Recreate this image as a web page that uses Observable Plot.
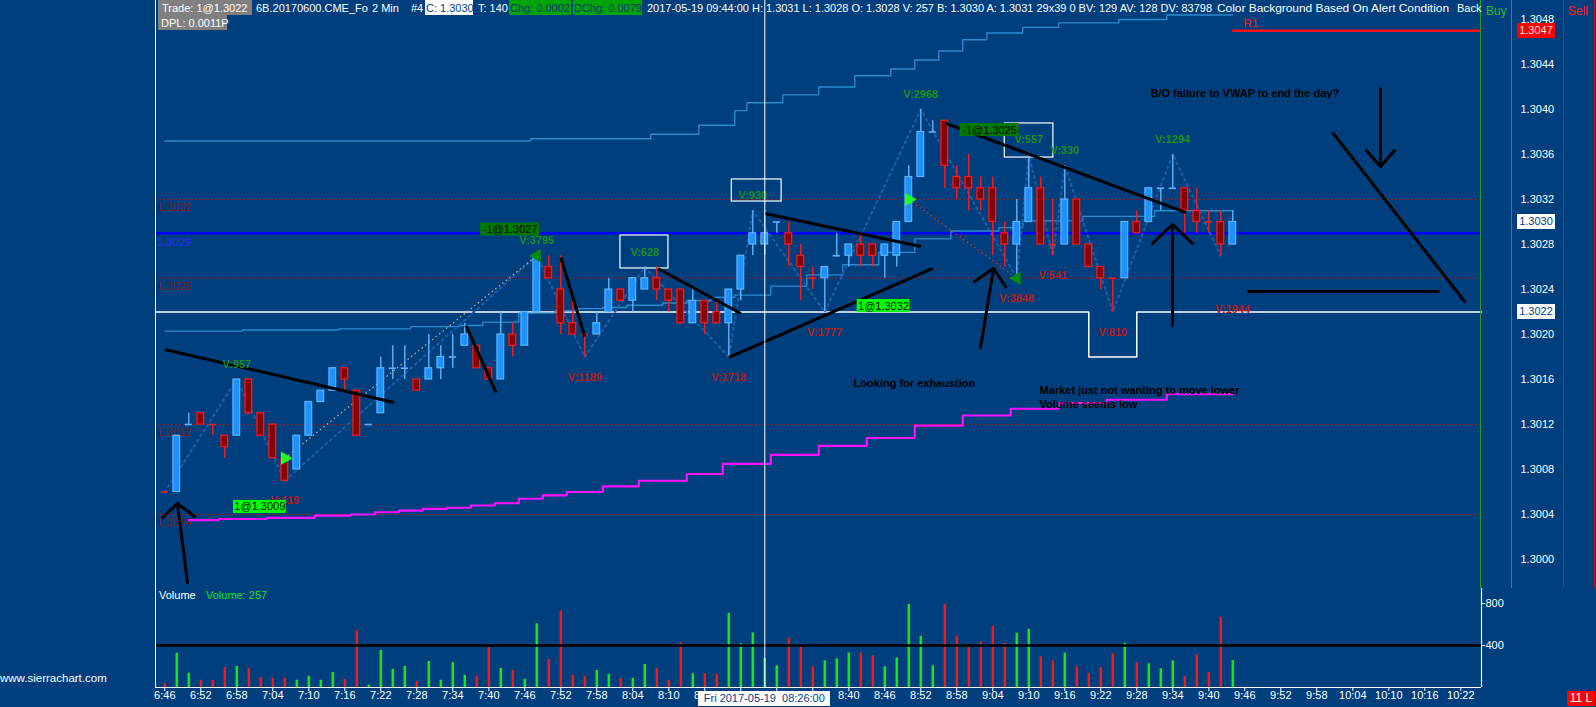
<!DOCTYPE html>
<html>
<head>
<meta charset="utf-8">
<script src="https://cdn.jsdelivr.net/npm/d3@7"></script>
<script src="https://cdn.jsdelivr.net/npm/@observablehq/plot@0.6"></script>
<style>
  html, body { margin:0; padding:0; background:#003f7e; }
  #wrap { position:relative; width:1596px; height:707px; background:#003f7e; overflow:hidden;
          font-family:"Liberation Sans", Arial, sans-serif; color:#fff; }
  #wrap > svg { position:absolute; left:0; }
  .abs { position:absolute; white-space:pre; font-size:11px; line-height:15px; }
</style>
</head>
<body>
<div id="wrap"></div>
<script>
// ---------------- DATA (6B 2-min bars, 06:46 .. 09:44, bar index 0..89) ----------------
const open = [
 1.3006,1.3006,1.3012,1.3013,1.3012,1.3011,1.3011,1.3016,1.3013,1.3012,
 1.3009,1.3008,1.3011,1.3014,1.3015,1.3017,1.3015,1.3012,1.3013,1.3017,
 1.3017,1.3016,1.3016,1.3017,1.3018,1.3019,1.3019,1.3017,1.3016,1.3020,
 1.3019,1.3022,1.3026,1.3024,1.3021,1.3020,1.3020,1.3022,1.3024,1.3023,
 1.3024,1.3025,1.3024,1.3024,1.3021,1.3023,1.3022,1.3021,1.3024,1.3028,
 1.3028,1.3030,1.3029,1.3027,1.3025,1.3025,1.3027,1.3027,1.3028,1.3028,
 1.3027,1.3027,1.3030,1.3034,1.3038,1.3039,1.3034,1.3034,1.3033,1.3033,
 1.3029,1.3028,1.3030,1.3033,1.3028,1.3028,1.3032,1.3028,1.3026,1.3025,
 1.3025,1.3030,1.3030,1.3033,1.3033,1.3033,1.3031,1.3030,1.3030,1.3028];
const high = [
 1.3006,1.3011,1.3013,1.3013,1.3012,1.3011,1.3016,1.3016,1.3013,1.3012,
 1.3009,1.3011,1.3014,1.3015,1.3017,1.3017,1.3015,1.3012,1.3018,1.3019,
 1.3019,1.3016,1.3020,1.3019,1.3020,1.3021,1.3019,1.3017,1.3022,1.3021,
 1.3022,1.3027,1.3027,1.3027,1.3023,1.3020,1.3022,1.3025,1.3024,1.3025,
 1.3026,1.3026,1.3024,1.3024,1.3024,1.3023,1.3023,1.3024,1.3027,1.3031,
 1.3031,1.3030,1.3030,1.3028,1.3026,1.3026,1.3029,1.3028,1.3029,1.3028,
 1.3028,1.3030,1.3035,1.3040,1.3039,1.3039,1.3035,1.3036,1.3034,1.3034,
 1.3030,1.3032,1.3036,1.3034,1.3032,1.3035,1.3032,1.3028,1.3026,1.3025,
 1.3030,1.3031,1.3033,1.3033,1.3036,1.3033,1.3033,1.3031,1.3031,1.3031];
const low = [
 1.3006,1.3006,1.3012,1.3012,1.3011,1.3009,1.3011,1.3013,1.3011,1.3009,
 1.3007,1.3008,1.3011,1.3014,1.3015,1.3015,1.3011,1.3012,1.3013,1.3016,
 1.3016,1.3015,1.3016,1.3016,1.3017,1.3019,1.3017,1.3016,1.3016,1.3018,
 1.3019,1.3022,1.3025,1.3020,1.3020,1.3018,1.3020,1.3022,1.3023,1.3022,
 1.3024,1.3023,1.3022,1.3021,1.3021,1.3020,1.3021,1.3018,1.3023,1.3027,
 1.3027,1.3029,1.3026,1.3023,1.3024,1.3022,1.3027,1.3026,1.3026,1.3026,
 1.3025,1.3026,1.3030,1.3034,1.3038,1.3033,1.3032,1.3031,1.3031,1.3027,
 1.3026,1.3025,1.3030,1.3028,1.3027,1.3028,1.3028,1.3026,1.3024,1.3022,
 1.3025,1.3029,1.3030,1.3031,1.3033,1.3029,1.3029,1.3029,1.3027,1.3028];
const close = [
 1.3006,1.3011,1.3012,1.3012,1.3012,1.3010,1.3016,1.3013,1.3011,1.3009,
 1.3007,1.3011,1.3014,1.3015,1.3017,1.3016,1.3011,1.3012,1.3017,1.3017,
 1.3017,1.3015,1.3017,1.3018,1.3018,1.3020,1.3017,1.3016,1.3020,1.3019,
 1.3022,1.3027,1.3025,1.3021,1.3020,1.3020,1.3021,1.3024,1.3023,1.3025,
 1.3025,1.3024,1.3023,1.3021,1.3023,1.3021,1.3021,1.3024,1.3027,1.3029,
 1.3029,1.3030,1.3028,1.3026,1.3025,1.3026,1.3027,1.3028,1.3027,1.3027,
 1.3028,1.3030,1.3034,1.3038,1.3038,1.3035,1.3033,1.3033,1.3032,1.3030,
 1.3028,1.3030,1.3033,1.3028,1.3028,1.3032,1.3028,1.3026,1.3025,1.3025,
 1.3030,1.3029,1.3033,1.3033,1.3033,1.3031,1.3030,1.3030,1.3028,1.3030];
// bar direction (G = up / green volume, R = down / red volume)
const barSide = ["RGGRRRGRRR","RGGGGRRGGG","GRGGGGRRGR","GGRRRRGGRG","GRRRGRRGGG",
                 "GGRRRGGGRR","GGGGGRRRRR","RGGRRGRRRR","GRGGGRRRRG"].join("");
const volume = [
 38,326,135,69,69,191,201,182,94,88,
 88,69,107,69,144,78,540,22,352,173,
 201,57,248,69,238,116,107,380,182,163,
 78,606,267,728,116,107,163,126,88,88,
 220,182,69,425,132,132,124,708,416,520,
 276,207,471,389,198,254,273,329,329,301,
 198,282,790,489,207,790,489,386,433,583,
 423,518,555,292,254,329,198,132,188,320,
 423,235,226,179,254,104,311,141,668,257];
// VWAP and bands
const upperBand = [
 1.30372,1.30372,1.30372,1.30372,1.30372,1.30372,1.30372,1.30372,1.30372,1.30372,
 1.30372,1.30372,1.30372,1.30372,1.30372,1.30372,1.30372,1.30372,1.30372,1.30372,
 1.30372,1.30372,1.30372,1.30372,1.30372,1.30372,1.30372,1.30372,1.30372,1.30372,
 1.30372,1.30374,1.30374,1.30374,1.30374,1.30374,1.30374,1.30374,1.30374,1.30374,
 1.30374,1.30378,1.30378,1.30378,1.30378,1.30386,1.30386,1.30386,1.30399,1.30406,
 1.30406,1.30406,1.30413,1.30413,1.30413,1.30420,1.30420,1.30420,1.30430,1.30430,
 1.30430,1.30436,1.30436,1.30444,1.30444,1.30452,1.30452,1.30462,1.30462,1.30468,
 1.30468,1.30468,1.30473,1.30473,1.30473,1.30477,1.30477,1.30477,1.30477,1.30477,
 1.30480,1.30480,1.30480,1.30480,1.30484,1.30484,1.30484,1.30484,1.30484,1.30484];
const vwap = [
 1.30203,1.30203,1.30203,1.30203,1.30203,1.30203,1.30203,1.30204,1.30204,1.30204,
 1.30204,1.30204,1.30204,1.30204,1.30204,1.30205,1.30205,1.30205,1.30205,1.30205,
 1.30205,1.30207,1.30207,1.30207,1.30207,1.30208,1.30208,1.30211,1.30211,1.30211,
 1.30219,1.30219,1.30219,1.30221,1.30221,1.30223,1.30223,1.30224,1.30224,1.30226,
 1.30226,1.30226,1.30228,1.30228,1.30230,1.30230,1.30233,1.30233,1.30235,1.30235,
 1.30235,1.30243,1.30243,1.30243,1.30253,1.30253,1.30253,1.30262,1.30262,1.30262,
 1.30273,1.30273,1.30273,1.30285,1.30285,1.30285,1.30292,1.30292,1.30292,1.30292,
 1.30295,1.30295,1.30301,1.30301,1.30301,1.30301,1.30301,1.30305,1.30305,1.30305,
 1.30305,1.30305,1.30305,1.30310,1.30310,1.30310,1.30310,1.30310,1.30310,1.30310];
const lowerBand = [
 null,null,1.30035,1.30035,1.30035,1.30036,1.30036,1.30036,1.30036,1.30037,
 1.30037,1.30037,1.30037,1.30039,1.30039,1.30039,1.30040,1.30040,1.30042,1.30042,
 1.300435,1.300435,1.30045,1.30045,1.30046,1.30046,1.30048,1.30048,1.30050,1.30050,
 1.30054,1.30054,1.30057,1.30057,1.30060,1.30060,1.30060,1.30065,1.30065,1.30065,
 1.30070,1.30070,1.30070,1.30070,1.30076,1.30076,1.30076,1.30085,1.30085,1.30085,
 1.30085,1.30093,1.30093,1.30093,1.30093,1.30101,1.30101,1.30101,1.30101,1.30108,
 1.30108,1.30108,1.30108,1.30119,1.30119,1.30119,1.30119,1.30128,1.30128,1.30128,
 1.30128,1.30134,1.30134,1.30134,1.30134,1.30139,1.30139,1.30139,1.30139,1.30142,
 1.30142,1.30142,1.30142,1.30142,1.30147,1.30147,1.30147,1.30147,1.30147,1.30147];
// white step level
const whiteLevel = [
 1.3022,1.3022,1.3022,1.3022,1.3022,1.3022,1.3022,1.3022,1.3022,1.3022,
 1.3022,1.3022,1.3022,1.3022,1.3022,1.3022,1.3022,1.3022,1.3022,1.3022,
 1.3022,1.3022,1.3022,1.3022,1.3022,1.3022,1.3022,1.3022,1.3022,1.3022,
 1.3022,1.3022,1.3022,1.3022,1.3022,1.3022,1.3022,1.3022,1.3022,1.3022,
 1.3022,1.3022,1.3022,1.3022,1.3022,1.3022,1.3022,1.3022,1.3022,1.3022,
 1.3022,1.3022,1.3022,1.3022,1.3022,1.3022,1.3022,1.3022,1.3022,1.3022,
 1.3022,1.3022,1.3022,1.3022,1.3022,1.3022,1.3022,1.3022,1.3022,1.3022,
 1.3022,1.3022,1.3022,1.3022,1.3022,1.3022,1.3022,1.3018,1.3018,1.3018,
 1.3018,1.3022,1.3022,1.3022,1.3022,1.3022,1.3022,1.3022,1.3022,1.3022];
const refLevels = [1.3032, 1.3025, 1.3012, 1.3004];
const blueLevel = 1.3029;
const r1Level = 1.3047;
const lastPrice = 1.3030;
const tradePriceLevel = 1.3022;
const priceTicks = [1.3000,1.3004,1.3008,1.3012,1.3016,1.3020,1.3024,1.3028,1.3032,1.3036,1.3040,1.3044,1.3048];
const volTicks = [400, 800];
const volAlert = 400;
const tickLabels = ["6:46","6:52","6:58","7:04","7:10","7:16","7:22","7:28","7:34","7:40","7:46","7:52",
  "7:58","8:04","8:10","8:16","8:22","8:28","8:34","8:40","8:46","8:52","8:58","9:04","9:10","9:16",
  "9:22","9:28","9:34","9:40","9:46","9:52","9:58","10:04","10:10","10:16","10:22"];
// swing highs / lows with swing volume
const swingBars    = [6,10,31,35,40,47,49,55,63,71,72,74,75,79,84,89];
const swingPrices  = [1.3016,1.3007,1.3027,1.3018,1.3026,1.3018,1.3031,1.3022,1.3040,1.3025,1.3036,1.3027,1.3035,1.3022,1.3036,1.3024];
const swingVolumes = [957,419,3795,1189,628,1718,930,1777,2968,3848,557,541,330,810,1294,1944];
const swingKind    = ["H","L","H","L","H","L","H","L","H","L","H","L","H","L","H","L"];
const zigzagBars   = [0,6,10,31,35,40,47,49,55,63,71,72,74,75,79,84,88];
const zigzagPrices = [1.3006,1.3016,1.3007,1.3027,1.3018,1.3026,1.3018,1.3031,1.3022,1.3040,1.3025,1.3036,1.3027,1.3035,1.3022,1.3036,1.3027];
// trades
const tradeBars   = [10, 31, 62, 71];
const tradePrices = [1.3009, 1.3027, 1.3032, 1.3025];
const tradeQty    = [1, -1, 1, -1];
const tradeLabelBars   = [7.92, 28.77, 59.89, 68.73];
const tradeLabelPrices = [1.300467, 1.302933, 1.302253, 1.303818];
// drawn annotations (bar index, price)
const trendLines = [
 [0, 1.301867, 19.1, 1.301396], [25.1, 1.302080, 27.6, 1.301484], [33.0, 1.302684, 35.0, 1.301982],
 [41.1, 1.302587, 48.0, 1.302187], [47.0, 1.301796, 64.0, 1.302587], [50.0, 1.303076, 63.0, 1.302782],
 [65.1, 1.303876, 85.1, 1.303084], [97.31, 1.303796, 108.39, 1.302284], [90.22, 1.302382, 106.22, 1.302382]];
const arrows = [
 [[-0.19,1.300373],[1.06,1.300498],[2.48,1.300382]], [[1.06,1.300498],[1.89,1.299796]],
 [[67.48,1.302471],[69.06,1.302587],[70.06,1.302427]], [[69.06,1.302587],[67.98,1.301884]],
 [[82.31,1.302809],[83.98,1.302978],[85.64,1.302809]], [[83.98,1.302978],[83.98,1.302080]],
 [[101.31,1.304187],[101.31,1.303493]], [[100.14,1.303636],[101.31,1.303493],[102.48,1.303636]]];
const notes = [
 {i: 57.4, p: 1.301564, t: "Looking for exhaustion"},
 {i: 72.9, p: 1.301502, t: "Market just not wanting to move lower"},
 {i: 72.9, p: 1.301378, t: "Volume seems low"},
 {i: 82.14, p: 1.304142, t: "B/O failure to VWAP to end the day?"}];
const boxes = [
 {x1: 37.97, x2: 41.97, y1: 1.302880, y2: 1.302587},
 {x1: 47.25, x2: 51.40, y1: 1.303378, y2: 1.303182},
 {x1: 70.00, x2: 74.05, y1: 1.303876, y2: 1.303573}];
const crossBar = 50;
const crossLabel = "Fri 2017-05-19  08:26:00";

// ---------------- CHART ----------------
const xDom = [-0.775, 109.725];
const yDom = [1.2997422, 1.3049689];
const UP_FILL = "#1e90ff", UP_LINE = "#5ab4ff", DN_FILL = "#8b0000", DN_LINE = "#ff1a1a";
const BG = "#003f7e";
const FONT = "Liberation Sans, Arial, sans-serif";

const bars = open.map((o, i) => ({i, o, h: high[i], l: low[i], c: close[i], v: volume[i], up: barSide[i] === "G"}));
const bodies = bars.filter(d => d.o !== d.c);
const dojis = bars.filter(d => d.o === d.c);
const swings = swingBars.map((b, k) => ({i: b, p: swingPrices[k], t: "V:" + swingVolumes[k], k: swingKind[k]}));
const zig = zigzagBars.map((b, k) => ({i: b, p: zigzagPrices[k]}));
const whiteLine = [{i: xDom[0], p: whiteLevel[0]}, ...whiteLevel.map((p, i) => ({i, p})),
                   {i: xDom[1], p: whiteLevel[whiteLevel.length - 1]}];
const trades = tradeBars.map((b, k) => ({i: b, p: tradePrices[k], q: tradeQty[k],
   lx: tradeLabelBars[k], lp: tradeLabelPrices[k], t: `${tradeQty[k]}@${tradePrices[k].toFixed(4)}`}));
const tradeLinks = [
  {x1: trades[0].i, y1: trades[0].p, x2: trades[1].i, y2: trades[1].p, s: "#c8b48c"},
  {x1: trades[2].i, y1: trades[2].p, x2: trades[3].i, y2: trades[3].p, s: "#ff2a2a"}];
const arrowPts = arrows.flatMap((a, z) => a.map(([i, p]) => ({i, p, z})));
const side = d => d.up;

const pricePlot = Plot.plot({
  width: 1596, height: 588, marginLeft: 155, marginRight: 115, marginTop: 0, marginBottom: 0,
  x: {domain: xDom, axis: null}, y: {domain: yDom, axis: null},
  style: {background: "transparent", color: "white", fontFamily: FONT, fontSize: "11px", overflow: "visible"},
  marks: [
    Plot.ruleY(refLevels, {stroke: "#a01c1c", strokeDasharray: "2,2", strokeWidth: 1}),
    Plot.text(refLevels, {x: xDom[0], y: d => d, text: d => d.toFixed(4), textAnchor: "start", dx: 1, dy: 8, fill: "#7c1c1c", fontSize: 11.5}),
    Plot.line(whiteLine, {x: "i", y: "p", curve: "step-after", stroke: "white", strokeWidth: 1.5}),
    Plot.ruleY([blueLevel], {stroke: "#0000ff", strokeWidth: 2.5}),
    Plot.text([blueLevel], {x: xDom[0], y: d => d, text: d => d.toFixed(4), textAnchor: "start", dx: 1, dy: 9, fill: "#2a2aff", fontSize: 11.5}),
    Plot.ruleY([r1Level], {x1: bars.length - 1, x2: xDom[1], stroke: "#ff1010", strokeWidth: 2.5}),
    Plot.text([r1Level], {x: bars.length - 0.1, y: d => d, text: () => "R1", textAnchor: "start", dy: -7, fill: "#ff1a1a", fontSize: 11.5}),
    Plot.line(bars, {x: "i", y: d => upperBand[d.i], curve: "step", stroke: "#2b8ccc", strokeWidth: 1.3}),
    Plot.line(bars, {x: "i", y: d => vwap[d.i], curve: "step", stroke: "#2b8ccc", strokeWidth: 1.3}),
    Plot.line(bars, {x: "i", y: d => lowerBand[d.i], curve: "step", stroke: "#ff10ff", strokeWidth: 2.2}),
    Plot.line(zig, {x: "i", y: "p", stroke: "#1d5aa2", strokeWidth: 2.2, strokeDasharray: "2,4"}),
    Plot.rect(boxes, {x1: "x1", x2: "x2", y1: "y1", y2: "y2", fill: "none", stroke: "white", strokeWidth: 1.2}),
    Plot.link(tradeLinks, {x1: "x1", y1: "y1", x2: "x2", y2: "y2", stroke: "s", strokeWidth: 1.2, strokeDasharray: "1.5,3"}),
    // candles
    Plot.ruleX(bars.filter(d => d.h > d.l), {x: "i", y1: "l", y2: "h", stroke: d => side(d) ? UP_LINE : DN_LINE, strokeWidth: 1.4}),
    Plot.rect(bodies, {x1: d => d.i - 0.28, x2: d => d.i + 0.28, y1: "o", y2: "c",
      fill: d => side(d) ? UP_FILL : DN_FILL, stroke: d => side(d) ? UP_LINE : DN_LINE, strokeWidth: 1.2}),
    Plot.ruleY(dojis, {y: "o", x1: d => d.i - 0.3, x2: d => d.i + 0.3, stroke: d => side(d) ? UP_LINE : DN_LINE, strokeWidth: 1.6}),
    // trade markers
    Plot.dot(trades, {x: "i", y: "p", symbol: "triangle", r: 5, rotate: d => d.q > 0 ? 90 : -90,
      fill: d => d.q > 0 ? "#20ff20" : "#0a8a0a"}),
    // annotations
    Plot.link(trendLines, {x1: d => d[0], y1: d => d[1], x2: d => d[2], y2: d => d[3], stroke: "black", strokeWidth: 3}),
    Plot.line(arrowPts, {x: "i", y: "p", z: "z", stroke: "black", strokeWidth: 3}),
    Plot.text(notes, {x: "i", y: "p", text: "t", textAnchor: "start", fill: "black", fontWeight: "bold", fontSize: 11}),
    Plot.text(swings.filter(d => d.k === "H"), {x: "i", y: "p", text: "t", dy: -15, fill: "#1a8f1a", fontWeight: "bold", fontSize: 11}),
    Plot.text(swings.filter(d => d.k === "L"), {x: "i", y: "p", text: "t", dy: 20, fill: "#b81c1c", fontWeight: "bold", fontSize: 11}),
    Plot.rect(trades, {x1: d => d.lx - (d.t.length * 6.2 + 3) / 24, x2: d => d.lx + (d.t.length * 6.2 + 3) / 24,
      y1: d => d.lp - 0.000058, y2: d => d.lp + 0.000058, fill: d => d.q > 0 ? "#00ff00" : "#007a00"}),
    Plot.text(trades, {x: "lx", y: "lp", text: "t", fill: "black", fontSize: 11}),
    // price axis
    Plot.axisY({anchor: "right", ticks: priceTicks, tickSize: 0, tickPadding: 39, tickFormat: d => d.toFixed(4),
      color: "white", fontSize: 11, label: null}),
    // crosshair
    Plot.ruleX([crossBar], {stroke: "white", strokeWidth: 1})
  ]
});

// tick labels hidden under the crosshair date box are not drawn (the box covers them in the original)
const crossHalf = 66;
const tickBars = tickLabels.map((_, k) => 3 * k);
const volX = d3.scaleLinear().domain(xDom).range([155, 1481]);
const hiddenTick = b => Math.abs(volX(b) - volX(crossBar)) < crossHalf - 8;

const volPlot = Plot.plot({
  width: 1596, height: 119, marginLeft: 155, marginRight: 115, marginTop: 0, marginBottom: 20,
  x: {domain: xDom, axis: null}, y: {domain: [0, 943], axis: null},
  style: {background: "transparent", color: "white", fontFamily: FONT, fontSize: "11px", overflow: "visible"},
  marks: [
    Plot.ruleX(bars, {x: "i", y1: 0, y2: "v", stroke: d => side(d) ? "#14e814" : "#ff1414", strokeWidth: 2.5}),
    Plot.ruleY([volAlert], {stroke: "black", strokeWidth: 2.5}),
    Plot.ruleY([0], {stroke: "white", strokeWidth: 1.2}),
    Plot.ruleX([xDom[1]], {stroke: "white", strokeWidth: 1.2}),
    Plot.axisY({anchor: "right", ticks: volTicks, tickSize: 3, tickPadding: 1, color: "white", fontSize: 11, label: null}),
    Plot.axisX({anchor: "bottom", ticks: tickBars, tickFormat: () => "", tickSize: 4, color: "white", label: null}),
    Plot.text(tickBars.filter(b => !hiddenTick(b)), {x: d => d, frameAnchor: "bottom", dy: 11,
      text: d => tickLabels[d / 3], fill: "white", fontSize: 11}),
    Plot.ruleX([crossBar], {stroke: "white", strokeWidth: 1})
  ]
});

const wrap = document.getElementById("wrap");
pricePlot.style.top = "0px";
volPlot.style.top = "588px";
wrap.append(pricePlot);
wrap.append(volPlot);

function div(css, text) {
  const d = document.createElement("div");
  d.className = "abs";
  Object.assign(d.style, css);
  if (text != null) d.textContent = text;
  wrap.append(d);
  return d;
}
const ys = pricePlot.scale("y");
const xs = volPlot.scale("x");

// left of the chart border is blank (first time label is clipped there)
div({left: "0px", top: "688px", width: "154px", height: "19px", background: BG});

// right side columns
div({left: "1480px", top: "0px", width: "1px", height: "588px", background: "#1fa31f"});
div({left: "1511px", top: "0px", width: "1px", height: "588px", background: "#1fa31f"});
div({left: "1563px", top: "0px", width: "1px", height: "588px", background: "#c81414"});
div({left: "1594px", top: "0px", width: "1px", height: "588px", background: "#c81414"});
div({left: "1486px", top: "4px", color: "#22c022", fontSize: "12px"}, "Buy");
div({left: "1568px", top: "4px", color: "#ff2020", fontSize: "12px"}, "Sell");

// price labels on the right axis
const boxLabel = (p, bg, fg) => div({left: "1517px", top: (ys.apply(p) - 7.5) + "px", width: "38px", height: "15px",
  background: bg, color: fg, textAlign: "center"}, p.toFixed(4));
boxLabel(r1Level, "#ff0000", "#ffe0e0");
boxLabel(lastPrice, "#ffffff", BG);
boxLabel(tradePriceLevel, "#ffffff", BG);

// volume pane labels
div({left: "159px", top: "588px"}, "Volume");
div({left: "206px", top: "588px", color: "#18e018"}, "Volume: " + volume[volume.length - 1]);
const cx = xs.apply(crossBar);
div({left: (cx - crossHalf) + "px", top: "691px", width: (2 * crossHalf) + "px", height: "15px", background: "#ffffff", color: BG, textAlign: "center"}, crossLabel);
div({left: "1567px", top: "691px", width: "28px", height: "15px", background: "#ff0000", color: "#ffffff", fontSize: "12px", textAlign: "center"}, "11 L");
div({left: "0px", top: "671px", fontSize: "11.5px"}, "www.sierrachart.com");

// header line
const hdr = d3.create("svg").attr("width", 1596).attr("height", 32)
  .style("position", "absolute").style("left", "0px").style("top", "0px")
  .style("font-family", FONT).style("font-size", "11px");
const hitems = [
  {x: 158, w: 94, y: 0, bg: "#808080", fg: "#fff", t: "Trade: 1@1.3022", tx: 162},
  {x: 256, y: 0, fg: "#fff", t: "6B.20170600.CME_Fo"},
  {x: 372, y: 0, fg: "#fff", t: "2 Min"},
  {x: 411, y: 0, fg: "#fff", t: "#4"},
  {x: 425, w: 48, y: 0, bg: "#ffffff", fg: BG, t: "C: 1.3030", tx: 426},
  {x: 478, y: 0, fg: "#fff", t: "T: 140"},
  {x: 509, w: 62, y: 0, bg: "#00a400", fg: "#0a3570", t: "Chg: 0.0002", tx: 510},
  {x: 573, w: 69, y: 0, bg: "#00a400", fg: "#0a3570", t: "DChg: 0.0079", tx: 574},
  {x: 647, y: 0, fg: "#fff", len: 565, t: "2017-05-19 09:44:00 H: 1.3031 L: 1.3028 O: 1.3028 V: 257 B: 1.3030 A: 1.3031 29x39 0 BV: 129 AV: 128 DV: 83798"},
  {x: 1217, y: 0, fg: "#fff", len: 232, t: "Color Background Based On Alert Condition"},
  {x: 1457, y: 0, fg: "#fff", t: "Back"},
  {x: 158, w: 69, y: 15, bg: "#808080", fg: "#fff", t: "DPL: 0.0011P", tx: 161}
];
for (const h of hitems) {
  if (h.bg) hdr.append("rect").attr("x", h.x).attr("y", h.y).attr("width", h.w).attr("height", 15).attr("fill", h.bg);
  const t = hdr.append("text").attr("x", h.tx ?? h.x).attr("y", h.y + 11.5).attr("fill", h.fg).text(h.t);
  if (h.len) t.attr("textLength", h.len).attr("lengthAdjust", "spacingAndGlyphs");
}
wrap.append(hdr.node());
// left chart border
div({left: "155px", top: "0px", width: "1px", height: "687px", background: "#ffffff"});
</script>
</body>
</html>
